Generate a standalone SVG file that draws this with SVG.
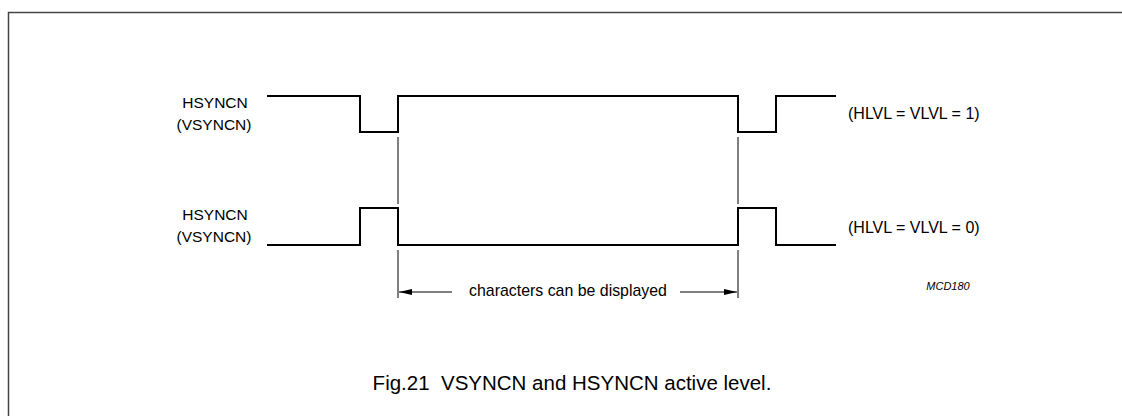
<svg xmlns="http://www.w3.org/2000/svg" width="1122" height="416" viewBox="0 0 1122 416">
<style>
.t{font-family:"Liberation Sans",Arial,sans-serif;font-size:15.5px;fill:#000}
.w{fill:none;stroke:#000;stroke-width:2}
.th{fill:none;stroke:#000;stroke-width:1}
</style>
<defs>
<marker id="ah" markerWidth="14" markerHeight="8" refX="13" refY="4" orient="auto-start-reverse" markerUnits="userSpaceOnUse">
<path d="M0,1 L13,4 L0,7 Z" fill="#000"/>
</marker>
</defs>
<rect width="1122" height="416" fill="#fff"/>
<path d="M8.5,416 V12.5 H1122" fill="none" stroke="#444" stroke-width="1.5"/>
<g id="label-top">
<text class="t" x="215" y="108" text-anchor="middle">HSYNCN</text>
<text class="t" x="214" y="130" text-anchor="middle">(VSYNCN)</text>
</g>
<g id="label-bottom">
<text class="t" x="215" y="220" text-anchor="middle">HSYNCN</text>
<text class="t" x="214" y="242" text-anchor="middle">(VSYNCN)</text>
</g>
<g id="wave-top">
<path class="w" d="M267,96 H360 V132 H398 V96 H738 V132 H776 V96 H836"/>
</g>
<g id="wave-bottom">
<path class="w" d="M267,245 H360 V208 H398 V245 H738 V208 H776 V245 H836"/>
</g>
<g id="level-1">
<text class="t" x="848" y="119" style="font-size:16px">(HLVL = VLVL = 1)</text>
</g>
<g id="level-0">
<text class="t" x="848" y="233" style="font-size:16px">(HLVL = VLVL = 0)</text>
</g>
<g id="connectors">
<path class="th" d="M398,137 V204 M398,250 V298 M738,137 V204 M738,250 V298"/>
<line class="th" x1="452" y1="292" x2="399" y2="292" marker-end="url(#ah)"/>
<line class="th" x1="680" y1="292" x2="737" y2="292" marker-end="url(#ah)"/>
</g>
<g id="span-label">
<text class="t" x="568" y="296" text-anchor="middle" style="font-size:15.9px">characters can be displayed</text>
</g>
<g id="ref">
<text class="t" x="948" y="290" text-anchor="middle" style="font-size:11px;font-style:italic">MCD180</text>
</g>
<g id="caption">
<text class="t" x="572" y="390" text-anchor="middle" style="font-size:20.5px" xml:space="preserve">Fig.21  VSYNCN and HSYNCN active level.</text>
</g>
</svg>
